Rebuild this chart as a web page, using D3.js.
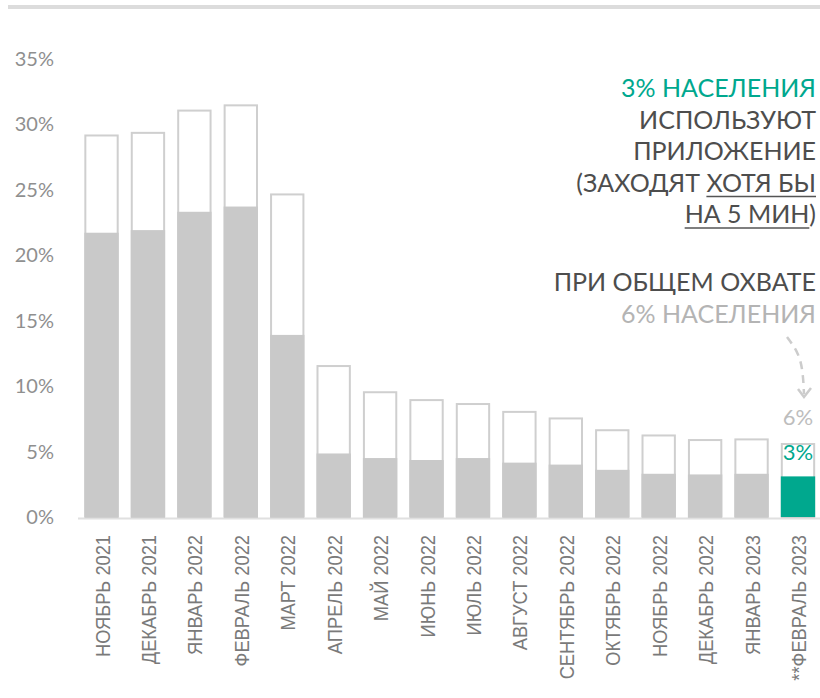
<!DOCTYPE html>
<html>
<head>
<meta charset="utf-8">
<script src="https://cdn.jsdelivr.net/npm/d3@7/dist/d3.min.js"></script>
<style>
  html, body { margin: 0; padding: 0; background: #fff; }
  svg { display: block; }
</style>
</head>
<body>
<svg id="chart" width="820" height="698"></svg>
<script>
const months = ["НОЯБРЬ 2021","ДЕКАБРЬ 2021","ЯНВАРЬ 2022","ФЕВРАЛЬ 2022","МАРТ 2022","АПРЕЛЬ 2022","МАЙ 2022","ИЮНЬ 2022","ИЮЛЬ 2022","АВГУСТ 2022","СЕНТЯБРЬ 2022","ОКТЯБРЬ 2022","НОЯБРЬ 2022","ДЕКАБРЬ 2022","ЯНВАРЬ 2023","**ФЕВРАЛЬ 2023"];
const reach = [29.2, 29.4, 31.1, 31.5, 24.7, 11.6, 9.6, 9.0, 8.7, 8.1, 7.6, 6.7, 6.3, 5.95, 6.0, 5.65];
const usage = [21.7, 21.9, 23.3, 23.7, 13.9, 4.85, 4.5, 4.35, 4.5, 4.15, 4.0, 3.6, 3.3, 3.25, 3.3, 3.1];
const yTicks = [0, 5, 10, 15, 20, 25, 30, 35];
const lastReachLabel = "6%";
const lastUsageLabel = "3%";
const noteLines = [
  [{t: "3% НАСЕЛЕНИЯ", c: "teal"}],
  [{t: "ИСПОЛЬЗУЮТ", c: "dark"}],
  [{t: "ПРИЛОЖЕНИЕ", c: "dark"}],
  [{t: "(ЗАХОДЯТ ", c: "dark"}, {t: "ХОТЯ БЫ", c: "dark", u: true}],
  [{t: "НА 5 МИН", c: "dark", u: true}, {t: ")", c: "dark"}],
  [],
  [{t: "ПРИ ОБЩЕМ ОХВАТЕ", c: "dark"}],
  [{t: "6% НАСЕЛЕНИЯ", c: "light"}]
];

const colors = { teal: "#00a88e", dark: "#4d4d4d", light: "#b4b4b4", bar: "#c9c9c9", stroke: "#cfcfcf", axis: "#e0e0e0", tick: "#8f8f8f", xlab: "#7a7a7a" };

const svg = d3.select("#chart");
const font = "Lato, 'Noto Sans', sans-serif";

// top rule
svg.append("rect").attr("x", 8).attr("y", 5).attr("width", 812).attr("height", 4).attr("fill", "#dcdcdc");

const x = d3.scaleBand().domain(months).range([78.3, 821.2]).paddingInner(0.26).paddingOuter(0.13);
const y = d3.scaleLinear().domain([0, 35]).range([517, 58.5]);

// y tick labels
svg.append("g").selectAll("text").data(yTicks).join("text")
  .attr("x", 54).attr("y", d => y(d)).attr("dy", "0.36em")
  .attr("text-anchor", "end")
  .attr("font-family", font).attr("font-size", 20).attr("font-weight", 400)
  .attr("fill", colors.tick)
  .text(d => d + "%");

// baseline
svg.append("line").attr("x1", 78).attr("x2", 820).attr("y1", y(0) + 1.5).attr("y2", y(0) + 1.5)
  .attr("stroke", colors.axis).attr("stroke-width", 2);

const bars = svg.append("g");
const n = months.length;
// outer (reach)
bars.selectAll("rect.outer").data(months).join("rect").attr("class", "outer")
  .attr("x", d => x(d) + 1).attr("width", x.bandwidth() - 2)
  .attr("y", (d, i) => y(reach[i]) + 1).attr("height", (d, i) => y(0) - y(reach[i]) - 1)
  .attr("fill", "#fff").attr("stroke", colors.stroke).attr("stroke-width", 2);
// inner (usage)
bars.selectAll("rect.inner").data(months).join("rect").attr("class", "inner")
  .attr("x", d => x(d)).attr("width", x.bandwidth())
  .attr("y", (d, i) => y(usage[i])).attr("height", (d, i) => y(0) - y(usage[i]))
  .attr("fill", (d, i) => i === n - 1 ? colors.teal : colors.bar);

// x labels
svg.append("g").selectAll("text").data(months).join("text")
  .attr("transform", d => `translate(${x(d) + x.bandwidth() / 2 + 8},535) rotate(-90) scale(0.87,1)`)
  .attr("text-anchor", "end")
  .attr("font-family", "'Liberation Sans', Arial, sans-serif")
  .attr("font-size", 21)
  .attr("fill", colors.xlab)
  .text(d => d);

// last bar labels
const last = months[n - 1];
const cx = x(last) + x.bandwidth() / 2;
svg.append("text").attr("x", cx).attr("y", y(reach[n - 1]) - 18).attr("text-anchor", "middle")
  .attr("font-family", font).attr("font-size", 22).attr("font-weight", 400).attr("fill", "#bdbdbd")
  .text(lastReachLabel);
svg.append("text").attr("x", cx).attr("y", y(reach[n - 1]) + 17).attr("text-anchor", "middle")
  .attr("font-family", font).attr("font-size", 22).attr("font-weight", 400).attr("fill", colors.teal)
  .text(lastUsageLabel);

// annotation
const note = svg.append("text").attr("text-anchor", "end")
  .attr("font-family", font).attr("font-size", 25).attr("font-weight", 400);
const underlines = [];
noteLines.forEach((line, li) => {
  if (!line.length) return;
  const baseY = 97 + li * 31.5 + (li >= 6 ? 5 : 0);
  line.forEach((seg, si) => {
    const ts = note.append("tspan").attr("fill", colors[seg.c]).text(seg.t)
      .style("white-space", "pre");
    if (si === 0) ts.attr("x", 816).attr("y", baseY);
    if (seg.u) underlines.push({node: ts.node(), y: baseY});
  });
});
underlines.forEach(u => {
  const start = u.node.getStartPositionOfChar(0).x;
  const len = u.node.getComputedTextLength();
  svg.append("line").attr("x1", start).attr("x2", start + len)
    .attr("y1", u.y + 5).attr("y2", u.y + 5)
    .attr("stroke", "#555").attr("stroke-width", 1.5);
});

// dashed arrow
const arrowPts = [[787, 337], [800, 360], [804, 394]];
svg.append("path")
  .attr("d", d3.line().curve(d3.curveNatural)(arrowPts))
  .attr("fill", "none").attr("stroke", "#cccccc").attr("stroke-width", 2.5)
  .attr("stroke-dasharray", "8,6");
svg.append("path")
  .attr("d", d3.line()([[798, 389], [804, 397], [811, 388]]))
  .attr("fill", "none").attr("stroke", "#cccccc").attr("stroke-width", 2.5);
</script>
</body>
</html>
